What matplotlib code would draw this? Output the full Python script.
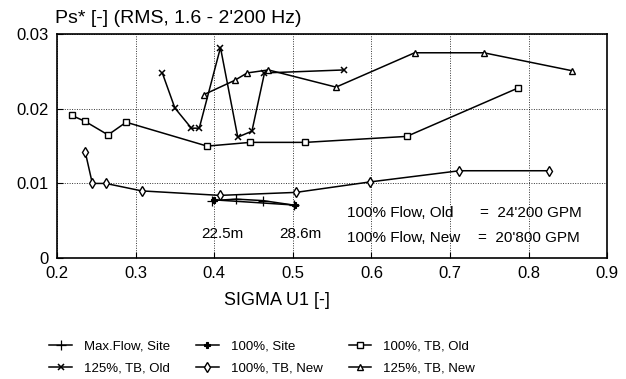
import matplotlib.pyplot as plt

# data (SIGMA U1 vs Ps* RMS)
maxflow_site_x = [0.397, 0.428, 0.462, 0.501]
maxflow_site_y = [0.0077, 0.0079, 0.0077, 0.0071]

site_100_x = [0.400, 0.503]
site_100_y = [0.0078, 0.0071]

tb_old_100_x = [0.219, 0.236, 0.265, 0.288, 0.391, 0.446, 0.516, 0.645, 0.787]
tb_old_100_y = [0.0191, 0.0183, 0.0165, 0.0182, 0.0150, 0.0155, 0.0155, 0.0163, 0.0228]

tb_old_125_x = [0.334, 0.350, 0.371, 0.381, 0.408, 0.430, 0.448, 0.464, 0.565]
tb_old_125_y = [0.0248, 0.0201, 0.0174, 0.0174, 0.0282, 0.0162, 0.0170, 0.0248, 0.0252]

tb_new_100_x = [0.236, 0.245, 0.262, 0.308, 0.407, 0.504, 0.598, 0.712, 0.826]
tb_new_100_y = [0.0142, 0.0100, 0.0100, 0.0090, 0.0084, 0.0088, 0.0102, 0.0117, 0.0117]

tb_new_125_x = [0.387, 0.426, 0.442, 0.469, 0.555, 0.655, 0.743, 0.855]
tb_new_125_y = [0.0219, 0.0238, 0.0248, 0.0252, 0.0229, 0.0275, 0.0275, 0.0251]

x_ticks = [0.2, 0.3, 0.4, 0.5, 0.6, 0.7, 0.8, 0.9]
y_ticks = [0, 0.01, 0.02, 0.03]

plt.rcParams['font.family'] = ['Liberation Sans', 'DejaVu Sans']

fig = plt.figure(figsize=(6.26, 3.79), dpi=100)
ax = fig.add_axes([0.091, 0.319, 0.879, 0.591])

LW = 1.1
ax.plot(maxflow_site_x, maxflow_site_y, color='black', lw=LW, marker='+', ms=7,
        mew=0.9, label='Max.Flow, Site')
ax.plot(site_100_x, site_100_y, color='black', lw=LW, marker='P', ms=4.5,
        mfc='black', mew=0.8, label='100%, Site')
ax.plot(tb_old_100_x, tb_old_100_y, color='black', lw=LW, marker='s', ms=4.5,
        mfc='white', mew=1.0, label='100%, TB, Old')
ax.plot(tb_old_125_x, tb_old_125_y, color='black', lw=LW, marker='x', ms=5,
        mew=1.1, label='125%, TB, Old')
ax.plot(tb_new_100_x, tb_new_100_y, color='black', lw=LW, marker='d', ms=5,
        mfc='white', mew=1.0, label='100%, TB, New')
ax.plot(tb_new_125_x, tb_new_125_y, color='black', lw=LW, marker='^', ms=5,
        mfc='white', mew=1.0, label='125%, TB, New')

ax.set_xlim(0.2, 0.9)
ax.set_ylim(0, 0.03)
ax.set_xticks(x_ticks)
ax.set_yticks(y_ticks)
ax.set_xticklabels(['0.2', '0.3', '0.4', '0.5', '0.6', '0.7', '0.8', '0.9'])
ax.set_yticklabels(['0', '0.01', '0.02', '0.03'])
ax.tick_params(direction='in', length=4, labelsize=12, pad=6, colors='black')
ax.grid(True, linestyle=(0, (1, 1.5)), color='black', lw=0.7, alpha=0.8)
for s in ax.spines.values():
    s.set_linewidth(1.2)

ax.text(0.41, 0.0032, '22.5m', fontsize=11, ha='center', va='center')
ax.text(0.51, 0.0032, '28.6m', fontsize=11, ha='center', va='center')
ax.text(0.569, 0.0060, '100% Flow, Old', fontsize=11, va='center')
ax.text(0.738, 0.0060, "=  24'200 GPM", fontsize=11, va='center')
ax.text(0.569, 0.0027, '100% Flow, New', fontsize=11, va='center')
ax.text(0.736, 0.0027, "=  20'800 GPM", fontsize=11, va='center')

fig.text(0.088, 0.952, "Ps* [-] (RMS, 1.6 - 2'200 Hz)", fontsize=14, va='center')
fig.text(0.443, 0.208, 'SIGMA U1 [-]', fontsize=13, ha='center', va='center')

handles, labels = ax.get_legend_handles_labels()
order = [0, 3, 1, 4, 2, 5]
fig.legend([handles[i] for i in order], [labels[i] for i in order],
           loc='lower left', bbox_to_anchor=(0.06, -0.02), ncol=3, frameon=False,
           fontsize=9.5, handlelength=1.7, handletextpad=0.9,
           columnspacing=2.0, labelspacing=0.75)

fig.savefig('out.png', dpi=100)
